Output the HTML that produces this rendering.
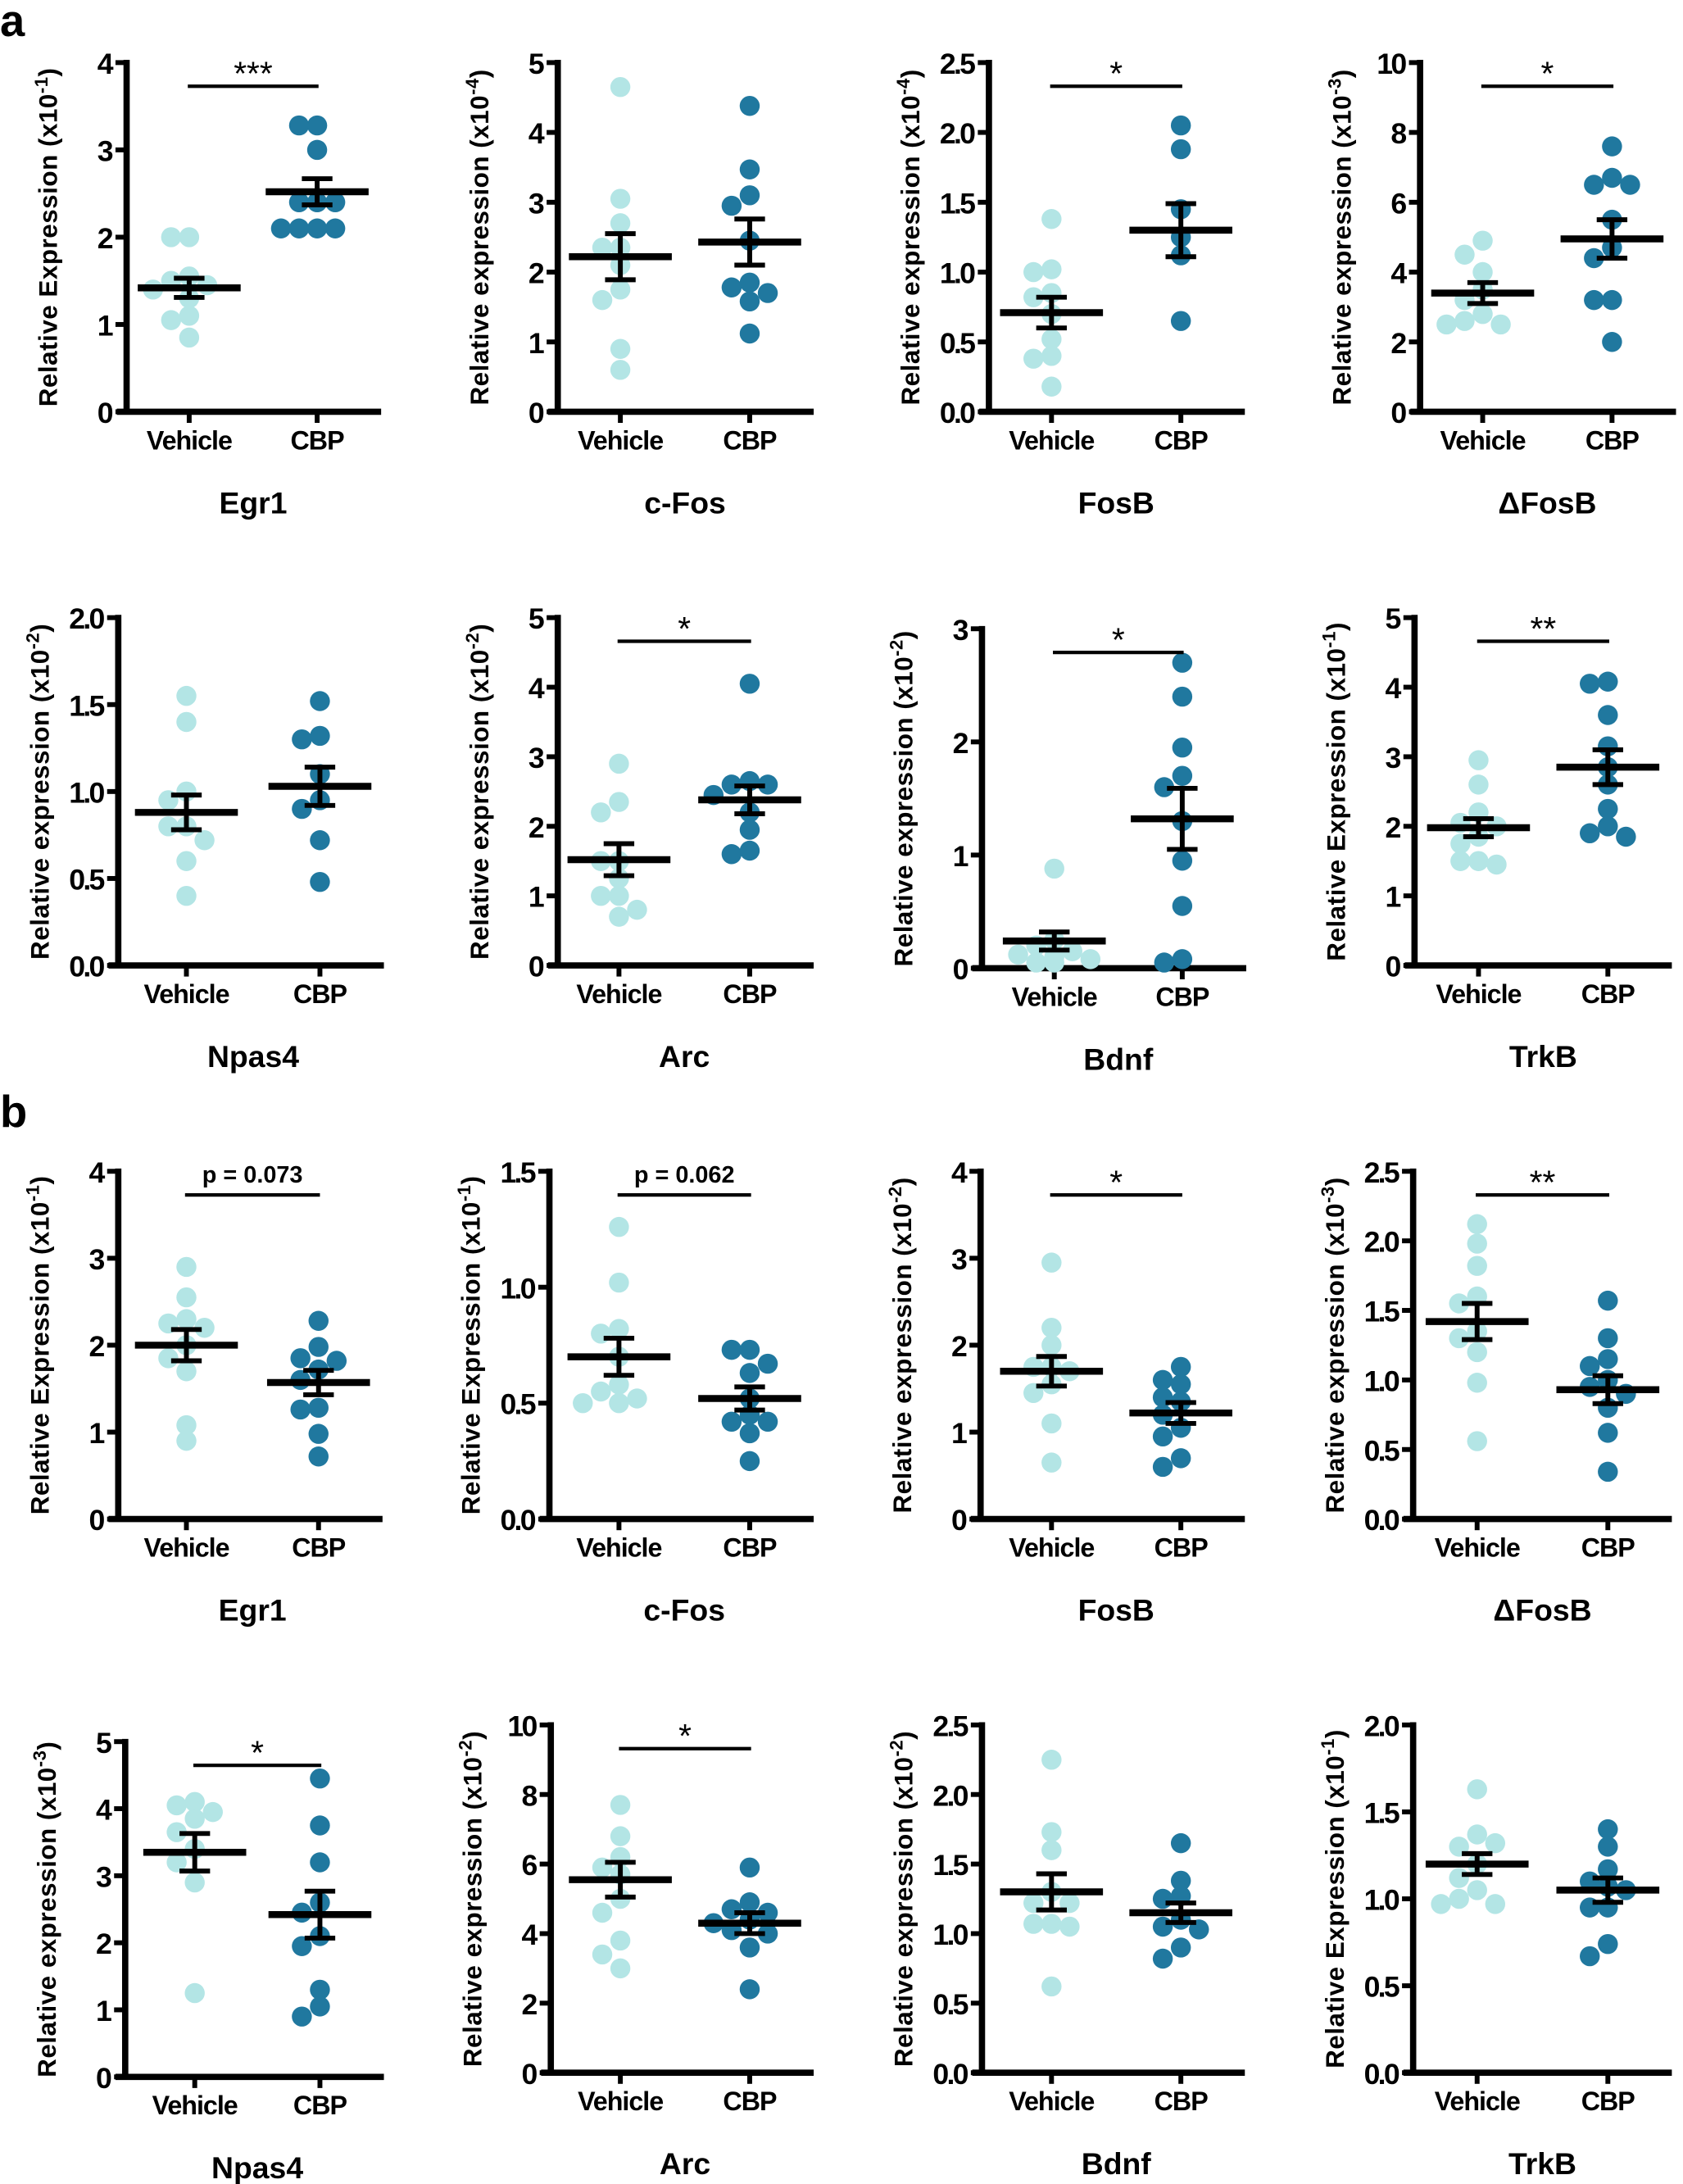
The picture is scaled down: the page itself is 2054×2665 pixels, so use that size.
<!DOCTYPE html>
<html><head><meta charset="utf-8"><style>
html,body{margin:0;padding:0;background:#fff}
svg{display:block}
text{font-family:"Liberation Sans",sans-serif;fill:#000}
.tick{font-size:21px;font-weight:bold;letter-spacing:-1.6px}
.xl{font-size:19px;font-weight:bold;letter-spacing:-0.6px}
.gene{font-size:22px;font-weight:bold}
.yt{font-size:18.5px;font-weight:bold;letter-spacing:0.3px}
</style></head><body>
<svg id="fig" width="2054" height="2665" viewBox="0 0 1210 1570" xmlns="http://www.w3.org/2000/svg">
<text x="0" y="26" font-size="32" font-weight="bold">a</text>
<text x="0" y="810" font-size="32" font-weight="bold">b</text>
</svg>
<script>
// ---- data arrays ----
const geneNames = ["Egr1","c-Fos","FosB","ΔFosB","Npas4","Arc","Bdnf","TrkB","Egr1","c-Fos","FosB","ΔFosB","Npas4","Arc","Bdnf","TrkB"];
const yWords = ["Expression","expression","expression","expression","expression","expression","expression","Expression","Expression","Expression","expression","expression","expression","expression","expression","Expression"];
const yExps = ["-1","-4","-4","-3","-2","-2","-2","-1","-1","-1","-2","-3","-3","-2","-2","-1"];
const yMax = [4,5,2.5,10,2,5,3,5,4,1.5,4,2.5,5,10,2.5,2];
const yStep = [1,1,0.5,2,0.5,1,1,1,1,0.5,1,0.5,1,2,0.5,0.5];
const tickDecimals = [0,0,1,0,1,0,0,0,0,1,0,1,0,0,1,1];
const vehicleValues = [
 [2.0,2.0,1.55,1.5,1.45,1.4,1.3,1.1,1.05,0.85],
 [4.65,3.05,2.7,2.35,2.35,2.1,1.75,1.6,0.9,0.6],
 [1.38,1.02,1.0,0.85,0.82,0.7,0.52,0.4,0.38,0.18],
 [4.9,4.5,4.0,3.5,3.2,2.8,2.6,2.5,2.5],
 [1.55,1.4,1.0,0.95,0.8,0.8,0.72,0.6,0.4],
 [2.9,2.35,2.2,1.5,1.5,1.25,1.0,1.0,0.8,0.7],
 [0.88,0.25,0.2,0.15,0.12,0.1,0.08,0.05,0.05],
 [2.95,2.6,2.2,2.05,2.0,1.85,1.75,1.5,1.5,1.45],
 [2.9,2.55,2.3,2.25,2.2,2.0,1.85,1.7,1.08,0.9],
 [1.26,1.02,0.82,0.8,0.7,0.58,0.55,0.52,0.5,0.5],
 [2.95,2.2,2.0,1.75,1.75,1.7,1.55,1.45,1.1,0.65],
 [2.12,1.98,1.82,1.6,1.55,1.35,1.3,1.2,0.98,0.56],
 [4.1,4.05,3.95,3.85,3.65,3.4,3.2,2.9,1.25],
 [7.7,6.8,6.2,5.9,5.7,5.0,4.6,3.8,3.4,3.0],
 [2.25,1.73,1.6,1.3,1.22,1.22,1.07,1.07,1.05,0.62],
 [1.63,1.37,1.3,1.32,1.2,1.12,1.05,1.0,0.97,0.97]
];
const cbpValues = [
 [3.28,3.28,3.0,2.4,2.4,2.4,2.1,2.1,2.1,2.1],
 [4.38,3.47,3.1,2.95,2.45,1.85,1.78,1.7,1.58,1.12],
 [2.05,1.88,1.45,1.25,1.12,0.65],
 [7.6,6.7,6.5,6.5,5.5,4.7,4.4,3.2,3.2,2.0],
 [1.52,1.32,1.3,1.1,0.95,0.9,0.72,0.48],
 [4.05,2.65,2.6,2.6,2.45,2.2,1.95,1.65,1.6],
 [2.7,2.4,1.95,1.7,1.6,1.3,0.95,0.55,0.08,0.05],
 [4.08,4.05,3.6,3.15,2.85,2.6,2.25,2.0,1.9,1.85],
 [2.28,1.98,1.85,1.82,1.72,1.6,1.28,1.26,0.98,0.72],
 [0.73,0.73,0.67,0.63,0.52,0.45,0.42,0.42,0.37,0.25],
 [1.75,1.6,1.55,1.4,1.35,1.2,1.05,0.95,0.7,0.6],
 [1.57,1.3,1.15,1.1,1.0,0.95,0.9,0.8,0.62,0.34],
 [4.45,3.75,3.2,2.6,2.45,2.1,1.95,1.3,1.05,0.9],
 [5.9,4.9,4.7,4.6,4.4,4.3,4.1,4.0,3.6,2.4],
 [1.65,1.38,1.27,1.25,1.1,1.05,1.03,0.9,0.82],
 [1.4,1.3,1.17,1.1,1.07,1.05,0.95,0.95,0.74,0.67]
];
const vehicleMean = [1.42,2.22,0.71,3.4,0.88,1.52,0.24,1.98,2.0,0.7,1.7,1.42,3.35,5.55,1.3,1.2];
const vehicleSem = [0.11,0.33,0.11,0.3,0.1,0.23,0.08,0.13,0.18,0.08,0.17,0.13,0.28,0.5,0.13,0.06];
const cbpMean = [2.52,2.43,1.3,4.95,1.03,2.38,1.32,2.85,1.57,0.52,1.22,0.93,2.42,4.3,1.15,1.05];
const cbpSem = [0.15,0.33,0.19,0.55,0.11,0.2,0.27,0.25,0.14,0.05,0.12,0.1,0.35,0.3,0.07,0.07];
const sigLabels = ["***","","*","*","","*","*","**","p = 0.073","p = 0.062","*","**","*","*","",""];
// ---- layout ----
const axisX = [91,401,711,1021, 85,401,706,1017, 85,395,705,1016, 90,396,706,1016];
const vehX  = [136,446,756,1066, 134,445,758,1063, 134,445,756,1062, 140,446,756,1062];
const cbpX  = [228,539,849,1159, 230,539,850,1156, 229,539,849,1156, 230,539,849,1156];
const topY  = [45,45,45,45, 444,444,452,444, 842,842,842,842, 1252,1240,1240,1240];
const botY  = [296,296,296,296, 694,694,696,694, 1092,1092,1092,1092, 1493,1490,1490,1490];
const NS="http://www.w3.org/2000/svg";
const svg=document.getElementById('fig');
function mk(tag,attrs,parent){const e=document.createElementNS(NS,tag);for(const k in attrs)e.setAttribute(k,attrs[k]);(parent||svg).appendChild(e);return e;}
const LIGHT="#b3e5e5", DARK="#20789f";
for(let p=0;p<16;p++){
  const g=mk('g',{});
  
  
  const ax=axisX[p], t=topY[p], b=botY[p];
  const y=v=>b-(v/yMax[p])*(b-t);
  const xEnd=cbpX[p]+46;
  const yaxis=mk('line',{x1:ax,y1:t-2,x2:ax,y2:b+2,stroke:'#000','stroke-width':4.5},g);
  
  
  const xaxis=mk('line',{x1:ax-7,y1:b,x2:xEnd,y2:b,stroke:'#000','stroke-width':4.5},g);
  
  
  const n=Math.round(yMax[p]/yStep[p]);
  for(let i=0;i<=n;i++){
    const v=i*yStep[p], yy=y(v);
    mk('line',{x1:ax-8,y1:yy,x2:ax,y2:yy,stroke:'#000','stroke-width':3.5},g);
    const tl=mk('text',{x:ax-11,y:yy+8,'text-anchor':'end',class:'tick'},g);
    tl.textContent=v.toFixed(tickDecimals[p]);
    
    
  }
  [[vehX[p],'Vehicle'],[cbpX[p],'CBP']].forEach(([xx,lab])=>{
    mk('line',{x1:xx,y1:b,x2:xx,y2:b+8,stroke:'#000','stroke-width':3.5},g);
    const xl=mk('text',{x:xx,y:b+27,'text-anchor':'middle',class:'xl'},g);
    xl.textContent=lab;
    
    
  });
  const gl=mk('text',{x:(vehX[p]+cbpX[p])/2,y:b+73,'text-anchor':'middle',class:'gene'},g);
  gl.textContent=geneNames[p];
  
  
  const yt=mk('text',{transform:`translate(${ax-50},${(t+b)/2}) rotate(-90)`,'text-anchor':'middle',class:'yt'},g);
  
  
  yt.appendChild(document.createTextNode('Relative '+yWords[p]+' (x10'));
  const sup=mk('tspan',{dy:-7,'font-size':13},yt); sup.textContent=yExps[p];
  const cl=mk('tspan',{dy:7},yt); cl.textContent=')';
  // dots
  [[vehicleValues[p],vehX[p],LIGHT,'vehicle'],[cbpValues[p],cbpX[p],DARK,'cbp']].forEach(([vals,cx,col,nm])=>{
    const placed=[];
    vals.forEach(v=>{
      const cy=y(v);
      const offs=[0,-13,13,-26,26,-10,10,-20,20];
      let ox=0;
      for(const o of offs){ if(placed.every(q=>Math.hypot(q[0]-o,q[1]-cy)>=11)){ox=o;break;} }
      placed.push([ox,cy]);
      const c=mk('circle',{cx:cx+ox,cy:cy,r:7.2,fill:col},g);
      
      
    });
  });
  // mean & sem
  [[vehicleMean[p],vehicleSem[p],vehX[p],'vehicle'],[cbpMean[p],cbpSem[p],cbpX[p],'cbp']].forEach(([m,s,cx,nm])=>{
    const mg=mk('g',{},g);
    
    
    mk('line',{x1:cx-37,y1:y(m),x2:cx+37,y2:y(m),stroke:'#000','stroke-width':5},mg);
    mk('line',{x1:cx,y1:y(m+s),x2:cx,y2:y(m-s),stroke:'#000','stroke-width':3.5},mg);
    mk('line',{x1:cx-11,y1:y(m+s),x2:cx+11,y2:y(m+s),stroke:'#000','stroke-width':3.5},mg);
    mk('line',{x1:cx-11,y1:y(m-s),x2:cx+11,y2:y(m-s),stroke:'#000','stroke-width':3.5},mg);
  });
  if(sigLabels[p]){
    const ly=t+17;
    const sl=mk('line',{x1:vehX[p]-1,y1:ly,x2:cbpX[p]+1,y2:ly,stroke:'#000','stroke-width':2.5},g);
    
    
    const isP=sigLabels[p].startsWith('p');
    const st=mk('text',{x:(vehX[p]+cbpX[p])/2,y:isP?ly-9:ly-1,'text-anchor':'middle','font-size':isP?17:24,'font-weight':isP?'bold':'normal'},g);
    st.textContent=sigLabels[p];
    
    
  }
}
</script>
</body></html>
